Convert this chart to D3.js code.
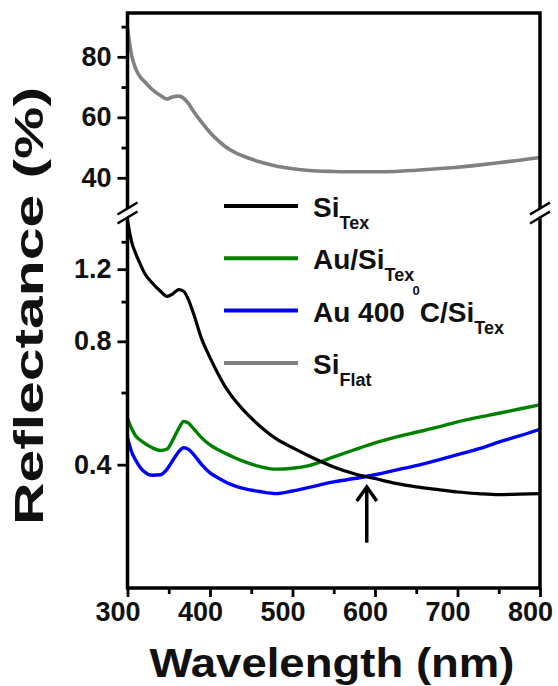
<!DOCTYPE html>
<html>
<head>
<meta charset="utf-8">
<script src="https://cdn.jsdelivr.net/npm/d3@7"></script>
<style>
    body { margin: 0; background: #fff; }
    svg { display: block; font-family: Arial, "Liberation Sans", sans-serif; }
</style>
</head>
<body>
<div id="chart"></div>
<script>
// wavelength grid (nm) shared by all spectra
const wavelengths = [300, 305, 310, 315, 320, 330, 340, 348, 355, 362, 368, 374, 380, 390, 400, 410, 420, 430,
    440, 460, 480, 500, 520, 550, 575, 600, 625, 650, 675, 700, 725, 750, 775, 800];

// reflectance (%) - upper panel
const siFlat = [89.5, 80.5, 76, 73.5, 72, 69.2, 67.2, 66, 66.8, 67, 66.3, 64.5, 62, 58.3, 55, 52.3, 50, 48.4,
    47.2, 45.3, 43.9, 43, 42.4, 42.1, 42, 42, 42.1, 42.5, 43, 43.5, 44.2, 45, 45.8, 46.7];

// reflectance (%) - lower panel (log)
const siTex = [1.58, 1.40, 1.31, 1.24, 1.18, 1.11, 1.06, 1.03, 1.045, 1.07, 1.06, 1.01, 0.935, 0.81, 0.73, 0.665, 0.613, 0.575,
    0.545, 0.498, 0.463, 0.44, 0.42, 0.395, 0.38, 0.37, 0.36, 0.353, 0.348, 0.343, 0.34, 0.338, 0.339, 0.34];
const auSiTex = [0.52, 0.49, 0.47, 0.46, 0.452, 0.44, 0.433, 0.437, 0.46, 0.49, 0.51, 0.505, 0.49, 0.465, 0.447, 0.435, 0.425, 0.416,
    0.408, 0.396, 0.39, 0.392, 0.398, 0.418, 0.435, 0.452, 0.467, 0.48, 0.493, 0.509, 0.522, 0.534, 0.547, 0.56];
const au400SiTex = [0.465, 0.43, 0.41, 0.395, 0.385, 0.377, 0.378, 0.39, 0.41, 0.43, 0.44, 0.436, 0.424, 0.4, 0.382, 0.371, 0.362, 0.355,
    0.35, 0.344, 0.34, 0.345, 0.352, 0.363, 0.37, 0.378, 0.388, 0.398, 0.41, 0.423, 0.437, 0.454, 0.47, 0.488];

// ticks
const xMajorTicks = [300, 400, 500, 600, 700, 800];
const xMinorTicks = [350, 450, 550, 650, 750];
const topMajorTicks = [40, 60, 80];
const topMinorTicks = [50, 70, 90];
const botMajorTicks = [0.4, 0.8, 1.2];
const botMinorTicks = [0.6, 1.0, 1.4];

// arrow marking the crossing point
const arrowNm = 590;
const arrowFrom = 0.258;
const arrowTo = 0.357;

const legendItems = [
    [["Si", ""], ["Tex", "sub"]],
    [["Au/Si", ""], ["Tex", "sub"]],
    [["Au 400 ", ""], ["0", "sup"], ["C/Si", ""], ["Tex", "sub"]],
    [["Si", ""], ["Flat", "sub"]]
];
const legendColors = ["#000000", "#008000", "#0000ff", "#808080"];

const W = 558, H = 686;
const plotLeft = 127.5, plotRight = 540, plotTop = 13, plotBottom = 588;
const topPanelBottom = 205, botPanelTop = 218, breakY = 213;

const svg = d3.select("#chart").append("svg")
    .attr("width", W)
    .attr("height", H);

const x = d3.scaleLinear().domain([300, 800]).range([plotLeft, plotRight]);
const yTop = d3.scaleLinear().domain([31, 94.5]).range([topPanelBottom, plotTop]);
const yBot = d3.scaleLog().domain([0.2, 1.6]).range([plotBottom, botPanelTop]);

svg.append("clipPath").attr("id", "clipTop")
    .append("rect").attr("x", plotLeft).attr("y", plotTop)
    .attr("width", plotRight - plotLeft).attr("height", topPanelBottom - plotTop + 2);
svg.append("clipPath").attr("id", "clipBot")
    .append("rect").attr("x", plotLeft).attr("y", botPanelTop - 2)
    .attr("width", plotRight - plotLeft).attr("height", plotBottom - botPanelTop + 2);

function drawSeries(values, yScale, color, clip, width) {
    const line = d3.line()
        .x((d, i) => x(wavelengths[i]))
        .y(d => yScale(d))
        .curve(d3.curveMonotoneX);
    svg.append("path")
        .datum(values)
        .attr("clip-path", `url(#${clip})`)
        .attr("fill", "none")
        .attr("stroke", color)
        .attr("stroke-width", width)
        .attr("stroke-linejoin", "round")
        .attr("d", line);
}

drawSeries(siFlat, yTop, legendColors[3], "clipTop", 3.6);
drawSeries(auSiTex, yBot, legendColors[1], "clipBot", 3.4);
drawSeries(au400SiTex, yBot, legendColors[2], "clipBot", 3.4);
drawSeries(siTex, yBot, legendColors[0], "clipBot", 3.2);

function styleAxis(g) {
    g.select(".domain").remove();
    g.selectAll(".tick line").attr("stroke", "#000").attr("stroke-width", 2.8);
    g.selectAll(".tick text")
        .attr("fill", "#111")
        .style("font-size", "27px")
        .style("font-weight", "bold");
}

// y axes (upper linear, lower log)
svg.append("g").attr("transform", `translate(${plotLeft},0)`)
    .call(d3.axisLeft(yTop).tickValues(topMajorTicks).tickSize(10).tickPadding(6).tickFormat(d3.format("d")))
    .call(styleAxis);
svg.append("g").attr("transform", `translate(${plotLeft},0)`)
    .call(d3.axisLeft(yTop).tickValues(topMinorTicks).tickSize(6).tickFormat(""))
    .call(styleAxis);
svg.append("g").attr("transform", `translate(${plotLeft},0)`)
    .call(d3.axisLeft(yBot).tickValues(botMajorTicks).tickSize(10).tickPadding(6).tickFormat(d3.format(".1f")))
    .call(styleAxis);
svg.append("g").attr("transform", `translate(${plotLeft},0)`)
    .call(d3.axisLeft(yBot).tickValues(botMinorTicks).tickSize(6).tickFormat(""))
    .call(styleAxis);

// x axis
svg.append("g").attr("transform", `translate(0,${plotBottom})`)
    .call(d3.axisBottom(x).tickValues(xMajorTicks).tickSize(9).tickPadding(5).tickFormat(d3.format("d")))
    .call(styleAxis)
    .call(g => g.selectAll(".tick text").attr("dx", -10));
svg.append("g").attr("transform", `translate(0,${plotBottom})`)
    .call(d3.axisBottom(x).tickValues(xMinorTicks).tickSize(6).tickFormat(""))
    .call(styleAxis);

// frame
svg.append("rect")
    .attr("x", plotLeft).attr("y", plotTop)
    .attr("width", plotRight - plotLeft).attr("height", plotBottom - plotTop)
    .attr("fill", "none")
    .attr("stroke", "#000")
    .attr("stroke-width", 3.5);

// axis break marks
[plotLeft, plotRight].forEach(ax => {
    svg.append("line")
        .attr("x1", ax - 10).attr("y1", breakY + 6)
        .attr("x2", ax + 10).attr("y2", breakY - 6)
        .attr("stroke", "#fff")
        .attr("stroke-width", 6);
    [-4.5, 4.5].forEach(off => {
        svg.append("line")
            .attr("x1", ax - 10).attr("y1", breakY + off + 6)
            .attr("x2", ax + 10).attr("y2", breakY + off - 6)
            .attr("stroke", "#000")
            .attr("stroke-width", 2.6);
    });
});

// arrow
const ax0 = x(arrowNm);
svg.append("line")
    .attr("x1", ax0).attr("y1", yBot(arrowFrom))
    .attr("x2", ax0).attr("y2", yBot(arrowTo) + 2)
    .attr("stroke", "#000")
    .attr("stroke-width", 3.5);
svg.append("path")
    .attr("d", `M${ax0 - 10},${yBot(arrowTo) + 16} L${ax0},${yBot(arrowTo) + 2} L${ax0 + 10},${yBot(arrowTo) + 16}`)
    .attr("fill", "none")
    .attr("stroke", "#000")
    .attr("stroke-width", 3.5);

// legend
const legend = svg.append("g").attr("class", "legend");
legendItems.forEach((parts, i) => {
    const ly = 206 + i * 52.3;
    const base = ly + 11;
    legend.append("line")
        .attr("x1", 224).attr("x2", 298)
        .attr("y1", ly).attr("y2", ly)
        .attr("stroke", legendColors[i])
        .attr("stroke-width", 4);
    const text = legend.append("text")
        .attr("x", 313)
        .attr("y", base)
        .attr("fill", "#111")
        .style("font-weight", "bold");
    parts.forEach(([str, kind]) => {
        let off = 0, size = 28;
        if (kind === "sub") { off = 12; size = 18; }
        if (kind === "sup") { off = -27; size = 13; }
        text.append("tspan")
            .attr("y", base + off)
            .style("font-size", size + "px")
            .text(str);
    });
});

// axis titles
svg.append("text")
    .attr("x", 332)
    .attr("y", 677)
    .attr("text-anchor", "middle")
    .attr("textLength", 365)
    .attr("lengthAdjust", "spacingAndGlyphs")
    .style("font-size", "40px")
    .style("font-weight", "bold")
    .attr("fill", "#111")
    .text("Wavelength (nm)");

svg.append("text")
    .attr("transform", "translate(43,306) rotate(-90)")
    .attr("text-anchor", "middle")
    .attr("textLength", 438)
    .attr("lengthAdjust", "spacingAndGlyphs")
    .style("font-size", "41px")
    .style("font-weight", "bold")
    .attr("fill", "#111")
    .text("Reflectance (%)");
</script>
</body>
</html>
